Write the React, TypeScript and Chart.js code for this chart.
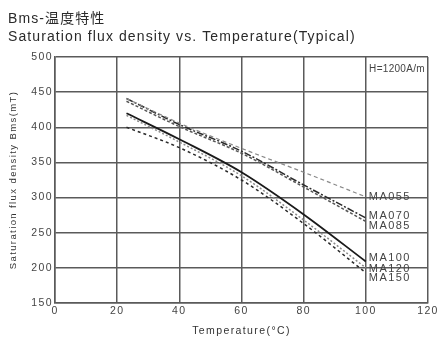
import React, { useEffect, useRef } from "react";
import { Chart, registerables } from "chart.js";

Chart.register(...registerables);

const titleLines = ["Bms-温度特性", "Saturation flux density vs. Temperature(Typical)"];
const temperatures = [23, 40, 60, 80, 100];
const seriesNames = ["MA055", "MA070", "MA085", "MA100", "MA120", "MA150"];
const ma055 = [441, 406, 370, 336, 301];
const ma070 = [441, 404, 366, 318, 271];
const ma085 = [437, 401, 363, 315, 266];
const ma100 = [420, 383, 336, 276, 209];
const ma120 = [417, 379, 331, 268, 200];
const ma150 = [400, 371, 325, 263, 193];
const labelValues = [301, 274, 259, 214, 199, 185];
const fieldNote = "H=1200A/m";
const fieldNoteAt = { x: 119, y: 482 };
const xTitle = "Temperature(°C)";
const yTitle = "Saturation flux density Bms(mT)";

const FONT = "'Liberation Sans', Arial, 'Noto Sans CJK JP', sans-serif";

const styles = [
  { color: "#8a8a8a", dash: [4, 3], width: 1.2 },
  { color: "#2a2a2a", dash: [7, 2, 2, 2], width: 1.5 },
  { color: "#555555", dash: [3, 2], width: 1.5 },
  { color: "#1a1a1a", dash: [], width: 1.8 },
  { color: "#8a8a8a", dash: [2, 2], width: 1.5 },
  { color: "#2a2a2a", dash: [3, 3], width: 1.5 },
];

export default function App() {
  const ref = useRef<HTMLCanvasElement | null>(null);
  useEffect(() => {
    if (!ref.current) return;
    const all = [ma055, ma070, ma085, ma100, ma120, ma150];
    const annot = {
      id: "annot",
      beforeDraw(chart: any) {
        (chart.ctx as any).letterSpacing = "1.4px";
      },
      afterDraw(chart: any) {
        const ctx = chart.ctx;
        const xs = chart.scales.x;
        const ys = chart.scales.y;
        ctx.save();
        ctx.fillStyle = "#2a2a2a";
        ctx.textBaseline = "middle";
        ctx.textAlign = "left";
        ctx.letterSpacing = "1.1px";
        ctx.font = `14px ${FONT}`;
        ctx.fillText(titleLines[0], 8, 19);
        ctx.fillText(titleLines[1], 8, 37);
        ctx.font = `11px ${FONT}`;
        ctx.letterSpacing = "1.4px";
        ctx.fillStyle = "#444";
        seriesNames.forEach((n, i) => {
          ctx.fillText(n, xs.getPixelForValue(100) + 3, ys.getPixelForValue(labelValues[i]));
        });
        ctx.textAlign = "right";
        ctx.letterSpacing = "0.3px";
        ctx.font = `10px ${FONT}`;
        ctx.fillText(fieldNote, xs.getPixelForValue(fieldNoteAt.x), ys.getPixelForValue(fieldNoteAt.y));
        ctx.restore();
      },
    };
    const chart = new Chart(ref.current, {
      type: "line",
      data: {
        datasets: seriesNames.map((n, i) => ({
          label: n,
          data: temperatures.map((t, j) => ({ x: t, y: all[i][j] })),
          borderColor: styles[i].color,
          borderDash: styles[i].dash,
          borderWidth: styles[i].width,
          pointRadius: 0,
          fill: false,
          cubicInterpolationMode: "monotone" as const,
        })),
      },
      options: {
        animation: false,
        responsive: false,
        maintainAspectRatio: false,
        layout: { padding: { top: 57, left: 8, right: 11, bottom: 0 } },
        plugins: { legend: { display: false }, tooltip: { enabled: false }, title: { display: false } },
        scales: {
          x: {
            type: "linear",
            min: 0,
            max: 120,
            ticks: { stepSize: 20, color: "#444", font: { family: FONT, size: 10.5 }, padding: 2 },
            grid: { color: "#5a5a5a", lineWidth: 1.5, drawTicks: false },
            border: { color: "#5a5a5a", width: 1.5 },
            title: { display: true, text: xTitle, color: "#333", font: { family: FONT, size: 10.5 }, padding: { top: 3, bottom: 0 } },
            afterFit: (s: any) => { s.height = 34; },
          },
          y: {
            min: 150,
            max: 500,
            ticks: { stepSize: 50, color: "#444", font: { family: FONT, size: 10.5 }, padding: 2 },
            grid: { color: "#5a5a5a", lineWidth: 1.5, drawTicks: false },
            border: { color: "#5a5a5a", width: 1.5 },
            title: { display: true, text: yTitle, color: "#333", font: { family: FONT, size: 9.5 }, padding: { top: 0, bottom: 0 } },
            afterFit: (s: any) => { s.width = 47; },
          },
        },
      },
      plugins: [annot],
    });
    return () => chart.destroy();
  }, []);
  return (
    <div style={{ position: "fixed", left: 0, top: 0, width: 439, height: 337, background: "#fff" }}>
      <canvas ref={ref} width={439} height={337} style={{ width: 439, height: 337 }} />
    </div>
  );
}
